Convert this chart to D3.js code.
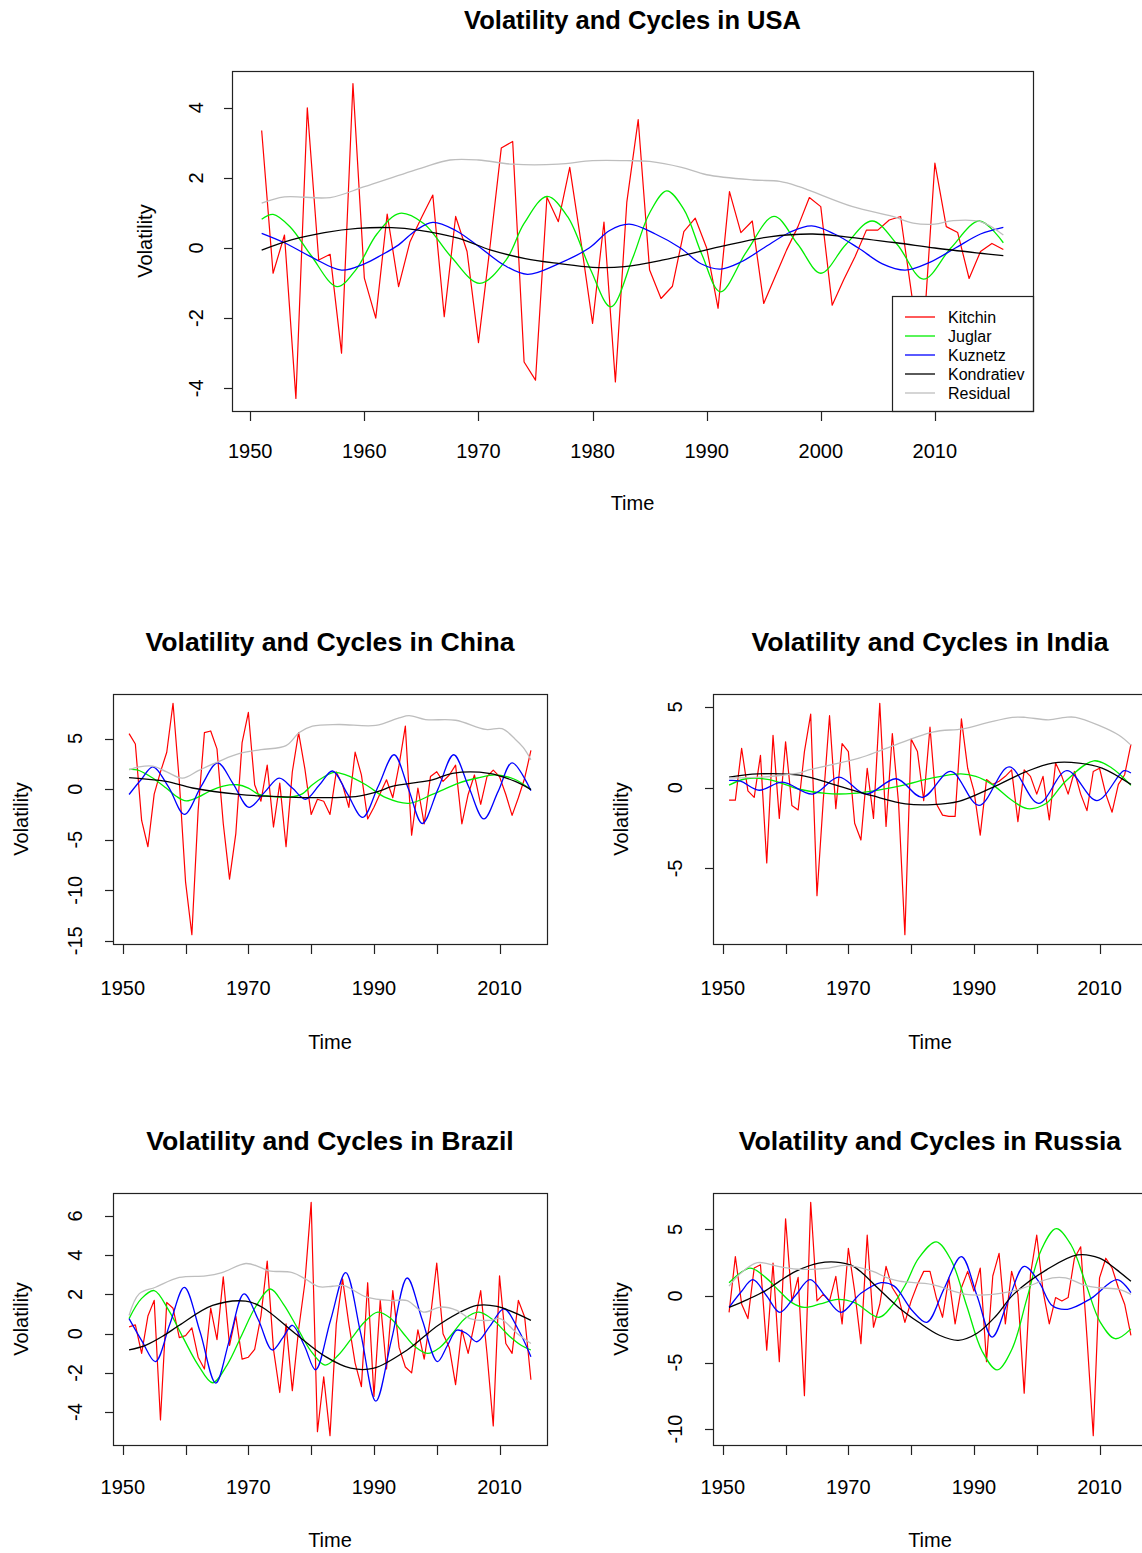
<!DOCTYPE html>
<html><head><meta charset="utf-8">
<script src="https://cdn.jsdelivr.net/npm/d3@7"></script>
<style>body{margin:0;background:#fff;} svg{display:block;}</style>
</head><body><svg id="c" width="1142" height="1553"></svg>
<script>
// ---------- categories ----------
const seriesNames = ["Kitchin","Juglar","Kuznetz","Kondratiev","Residual"];
const seriesColors = ["#ff0000","#00ee00","#0000ff","#000000","#bebebe"];
const yearsUSA = d3.range(1951, 2017);
const yearsOther = d3.range(1951, 2016);
const xTickValues = [1950,1960,1970,1980,1990,2000,2010];

// ---------- USA ----------
const usaKitchin = [3.35,-0.72,0.37,-4.29,4.0,-0.34,-0.18,-3.0,4.69,-0.86,-2.0,0.97,-1.1,0.18,0.86,1.51,-1.96,0.9,-0.1,-2.7,0.0,2.85,3.04,-3.25,-3.77,1.45,0.75,2.3,0.14,-2.15,0.74,-3.82,1.3,3.66,-0.63,-1.44,-1.09,0.47,0.85,0.0,-1.72,1.61,0.44,0.77,-1.58,-0.82,-0.06,0.61,1.44,1.18,-1.63,-0.91,-0.25,0.51,0.51,0.8,0.9,-1.4,-2.5,2.42,0.61,0.44,-0.87,-0.1,0.13,-0.04];
const usaJuglar = [[1951,0.82],[1952,0.96],[1953.5,0.6],[1955.3,-0.2],[1957.6,-1.1],[1959.3,-0.6],[1961.1,0.4],[1963.1,0.99],[1965.2,0.7],[1967.6,-0.25],[1970.1,-1.01],[1972.4,-0.35],[1974,0.7],[1976,1.47],[1977.8,0.9],[1979.8,-0.6],[1981.6,-1.68],[1983.5,-0.3],[1985,1.0],[1986.5,1.63],[1988,1.1],[1989.6,-0.2],[1991.2,-1.25],[1993.5,-0.1],[1995.9,0.9],[1998,0.1],[2000,-0.72],[2002.2,0.1],[2004.5,0.77],[2006.7,0.1],[2009,-0.89],[2011.4,0],[2013.9,0.77],[2016,0.15]];
const usaKuznetz = [[1951,0.42],[1953,0.15],[1955.5,-0.28],[1958,-0.63],[1960,-0.45],[1961.5,-0.2],[1963,0.09],[1964.5,0.5],[1966,0.73],[1968,0.5],[1970,0.05],[1972.3,-0.5],[1974.3,-0.75],[1977,-0.45],[1979.7,0],[1981.5,0.5],[1983.2,0.68],[1985.5,0.4],[1987.7,0],[1989.5,-0.45],[1991.2,-0.6],[1993,-0.4],[1995,0],[1997.3,0.45],[1999.2,0.63],[2001.2,0.4],[2003.3,0],[2005.4,-0.45],[2007.4,-0.63],[2009.6,-0.4],[2011.8,0],[2014,0.4],[2016,0.59]];
const usaKondratiev = [[1951,-0.06],[1953.6,0.23],[1956.5,0.44],[1959.4,0.56],[1962.4,0.58],[1964.7,0.51],[1968.2,0.28],[1971.1,-0.06],[1974.1,-0.3],[1977,-0.44],[1980,-0.55],[1982.8,-0.53],[1986.2,-0.34],[1991.2,0.04],[1995.5,0.32],[1999.3,0.4],[2002.2,0.32],[2006.6,0.15],[2010,0],[2014,-0.15],[2016,-0.22]];
const usaResidual = [[1951,1.28],[1953,1.46],[1957,1.44],[1960,1.75],[1965,2.28],[1967.5,2.51],[1970,2.51],[1973,2.39],[1977,2.39],[1980,2.49],[1983,2.49],[1985,2.47],[1987.8,2.3],[1990,2.09],[1994.1,1.94],[1996.4,1.9],[1998.1,1.75],[2002.8,1.18],[2006.3,0.9],[2008.1,0.71],[2010,0.68],[2011.6,0.78],[2014,0.75],[2016,0.37]];

// ---------- China ----------
const chinaKitchin = [5.49,4.46,-3.1,-5.7,-0.5,1.7,3.65,8.49,0.76,-9.2,-14.4,-2.1,5.59,5.75,3.98,-3.4,-8.9,-4.4,4.6,7.58,0.43,-1.2,2.37,-3.75,0.6,-5.7,1.72,5.59,2.0,-2.5,-1.0,-1.2,-2.5,1.7,0.43,-1.8,3.65,1.4,-2.95,-1.8,-0.4,0.92,-0.85,2.37,6.23,-4.56,0.11,-3.43,1.24,1.72,0.76,1.4,2.37,-3.43,-0.53,1.4,-1.5,1.24,1.88,1.24,-0.53,-2.6,-0.85,1.08,3.82];
const chinaJuglar = [[1951,1.95],[1952.3,1.9],[1954.5,1.2],[1956.9,0.11],[1958.5,-0.7],[1960.1,-1.17],[1962,-0.8],[1963.8,-0.21],[1966,0.3],[1968.3,0.43],[1970,0.1],[1971.7,-0.53],[1974,-0.75],[1976.5,-0.8],[1978.5,-0.5],[1980.2,0.43],[1982,1.2],[1983.7,1.66],[1985.5,1.4],[1988.7,0.43],[1991.9,-0.85],[1995.6,-1.4],[1999.3,-0.53],[2003.5,0.6],[2006.5,1.1],[2009.4,1.4],[2012.3,1.0],[2015,-0.05]];
const chinaKuznetz = [[1951,-0.53],[1953,1.0],[1954.8,2.2],[1957.3,0.2],[1959.8,-2.5],[1962.5,0.3],[1965.1,2.6],[1967.6,0.5],[1970.1,-1.8],[1972.6,-0.3],[1974.9,1.08],[1977,0.1],[1979.1,-1.0],[1981.3,0.4],[1983.4,1.79],[1985.8,-0.5],[1988.2,-2.8],[1990.7,0.3],[1993.2,3.4],[1995.5,0],[1997.7,-3.4],[2000.2,0],[2002.7,3.4],[2005.1,0.2],[2007.5,-2.95],[2009.8,-0.2],[2012,2.6],[2015,-0.15]];
const chinaKondratiev = [[1951,1.14],[1956.9,0.76],[1961.1,0.11],[1968.5,-0.53],[1972.8,-0.69],[1980.2,-0.85],[1987.6,-0.69],[1990.8,-0.21],[1992.9,0.27],[1999.3,0.92],[2002.5,1.56],[2008.3,1.56],[2012.5,0.76],[2015,-0.05]];
const chinaResidual = [[1951,1.9],[1952.6,2.2],[1954.8,2.27],[1957,1.7],[1959.5,1.08],[1962.2,1.88],[1965.5,2.8],[1968.5,3.5],[1972,3.9],[1976,4.3],[1978.1,5.59],[1980.2,6.23],[1984.4,6.39],[1990.3,6.3],[1994,7.04],[1995.6,7.26],[1998.2,6.88],[2003,6.81],[2007.8,5.9],[2010.4,5.97],[2012.5,4.94],[2013.8,4.1],[2015,2.9]];

// ---------- India ----------
const indiaKitchin = [-0.77,-0.77,2.43,-0.2,-0.6,2.0,-4.66,3.24,-1.9,2.83,-1.1,-1.38,2.23,4.55,-6.68,-0.8,4.45,-1.3,2.73,2.23,-2.2,-3.24,1.2,-1.9,5.22,-2.4,3.34,-1.0,-9.1,3.0,2.23,-0.8,3.74,-1.0,-1.7,-1.78,-1.78,4.25,1.2,-0.2,-2.94,0.5,0.2,0.4,0.7,1.1,-2.1,1.1,0.7,-0.4,0.7,-2.0,1.52,0.7,-0.4,1.0,-0.4,-1.42,1.0,1.2,-0.4,-1.52,0.2,0.8,2.67];
const indiaJuglar = [[1951,0.16],[1953.7,0.55],[1957.4,0.5],[1962.2,-0.1],[1966.4,-0.36],[1970.7,-0.36],[1978.1,0.1],[1983.4,0.6],[1987.9,0.85],[1990.3,0.7],[1992.9,0.2],[1996.1,-0.8],[1998.5,-1.3],[2001.4,-1.0],[2004.6,0.4],[2009.1,1.66],[2012,1.2],[2015,0.14]];
const indiaKuznetz = [[1951,0.45],[1952.8,0.4],[1955.8,-0.16],[1959.5,0.34],[1964.3,-0.4],[1968.5,0.65],[1972.8,-0.4],[1977.6,0.55],[1981.8,-0.6],[1986.3,1.0],[1990.8,-1.1],[1995.6,1.28],[2000.3,-0.97],[2004.8,1.05],[2009.6,-0.8],[2013.9,1.05],[2015,0.9]];
const indiaKondratiev = [[1951,0.65],[1955.6,0.85],[1962.2,0.77],[1968.5,0.1],[1973.8,-0.5],[1979.1,-1.0],[1983.4,-1.05],[1987.6,-0.85],[1992.9,0],[1998.2,0.97],[2002.5,1.52],[2006.7,1.52],[2010.4,1.21],[2015,0.2]];
const indiaResidual = [[1951,0.6],[1956,0.65],[1959,0.75],[1962.2,0.91],[1963.8,1.11],[1971.7,1.82],[1976,2.43],[1983.4,3.44],[1988.2,3.64],[1992,4.0],[1996.1,4.35],[1998.2,4.35],[2001.9,4.19],[2004.6,4.35],[2006.2,4.35],[2009.9,3.85],[2013.1,3.24],[2015,2.63]];

// ---------- Brazil ----------
const brazilKitchin = [0.35,0.45,-1.0,0.9,1.7,-4.4,1.6,1.3,-0.2,-0.1,0.3,-1.2,-1.8,1.3,-0.3,2.9,-0.6,0.9,-1.3,-1.2,-0.8,0.9,3.7,-0.8,-3.0,0.5,-2.9,0.2,2.6,6.7,-5.0,-2.2,-5.2,0.5,2.8,0.5,-1.5,-2.7,2.6,-3.2,1.7,-1.8,2.2,-0.7,-1.7,-2.0,0.2,-1.3,0.85,3.6,0.0,-0.7,-2.6,0.2,-1.0,0.5,2.2,-1.0,-4.7,2.95,-0.5,-1.0,1.7,0.85,-2.35];
const brazilJuglar = [[1951,0.77],[1953,1.8],[1955,2.2],[1957.3,1.2],[1959.6,-0.2],[1962,-1.6],[1964.3,-2.5],[1966.6,-1.6],[1968.9,-0.1],[1971.2,1.4],[1973.5,2.28],[1975.6,1.5],[1977.8,0.3],[1980,-0.9],[1982.2,-1.6],[1984.3,-1.1],[1986.4,-0.25],[1988.5,0.6],[1990.6,1.1],[1992.6,0.8],[1994.6,0.05],[1996.5,-0.65],[1998.5,-1.0],[2000.5,-0.7],[2002.6,0.05],[2004.6,0.8],[2006.7,1.1],[2009,0.7],[2011.5,-0.1],[2013.5,-0.6],[2015,-0.83]];
const brazilKuznetz = [[1951,0.77],[1953.1,-0.4],[1955.2,-1.42],[1957.5,0.5],[1959.8,2.36],[1962.3,0.1],[1964.8,-2.52],[1967,-0.3],[1969.3,2.03],[1971.6,0.7],[1973.8,-0.83],[1975.5,-0.2],[1977,0.43],[1978.9,-0.6],[1980.7,-1.84],[1983.1,0.7],[1985.5,3.12],[1987.9,0.0],[1990.3,-3.44],[1992.8,-0.3],[1995.3,2.84],[1997.7,0.7],[2000.1,-1.42],[2001.7,-0.6],[2003.2,0.18],[2004.8,0.0],[2006.4,-0.41],[2008.5,0.4],[2010.7,1.27],[2013,0.2],[2015,-1.17]];
const brazilKondratiev = [[1951,-0.83],[1953.7,-0.58],[1956.5,-0.1],[1959,0.43],[1964.3,1.44],[1969.6,1.66],[1972.2,1.35],[1977.5,0],[1982.3,-1.17],[1986.3,-1.76],[1990,-1.76],[1995.3,-0.83],[2000.6,0.51],[2006.4,1.44],[2009.6,1.39],[2015,0.68]];
const brazilResidual = [[1951,0.93],[1952.6,2.03],[1955.2,2.37],[1959,2.87],[1963.2,2.95],[1965.8,3.12],[1969.6,3.58],[1971.7,3.41],[1973.3,3.21],[1977,3.12],[1979.1,2.79],[1981.2,2.4],[1983.4,2.42],[1985.2,2.45],[1988.9,1.86],[1992.7,1.69],[1995.3,1.69],[1997.9,1.1],[2000.6,1.36],[2003.2,1.19],[2005.3,0.77],[2008.5,0.68],[2010.1,0.77],[2012.8,0.01],[2015,-0.5]];

// ---------- Russia ----------
const russiaKitchin = [-1.23,2.96,-0.6,-1.7,2.1,2.35,-4.07,2.47,-4.94,5.8,-0.4,1.4,-7.5,7.04,-0.37,0.12,-0.37,1.48,-2.1,3.58,0.37,-3.58,4.57,-2.35,-0.62,2.22,0.62,-0.12,-1.98,-0.37,0.86,1.85,1.85,-0.12,-1.6,1.36,-2.1,0.62,1.85,0.37,2.1,-4.94,1.5,3.2,-2.1,1.85,0.12,-7.3,1.6,4.57,0.37,-2.1,-0.12,-0.37,-0.12,2.84,3.7,-3.1,-10.5,1.36,2.84,2.1,0.62,-0.62,-2.96];
const russiaJuglar = [[1951,0.99],[1954.3,2.1],[1956.8,1.4],[1959,0.37],[1961,-0.5],[1963,-0.86],[1965.5,-0.6],[1968.3,-0.25],[1971,-0.5],[1974.9,-1.6],[1977,-0.7],[1979.1,0.86],[1981.2,2.84],[1984,4.07],[1986.4,2.66],[1988.85,-0.75],[1991.3,-4.15],[1993.7,-5.56],[1996.05,-4.0],[1998.4,-0.25],[2000.75,3.5],[2003.1,5.06],[2005.45,3.85],[2007.8,0.93],[2010.15,-2.0],[2012.5,-3.21],[2015,-2.47]];
const russiaKuznetz = [[1951,-0.86],[1952.9,0.3],[1954.8,1.23],[1957,0.0],[1959.1,-1.23],[1961.5,0.0],[1963.9,1.23],[1966.3,0.0],[1968.8,-1.23],[1972,0.2],[1975.2,1.0],[1977.3,0.74],[1980.2,-1.11],[1982.5,-1.98],[1985.2,0.5],[1988,2.96],[1990.5,0.0],[1992.9,-3.09],[1995.5,-0.3],[1998,2.22],[2000.3,1.1],[2002.5,-0.74],[2004.9,-1.0],[2008.6,-0.2],[2012.8,1.23],[2015,0.25]];
const russiaKondratiev = [[1951,-0.86],[1954,-0.25],[1956.7,0.37],[1959,1.1],[1961.6,1.85],[1965.3,2.47],[1968,2.55],[1970.5,2.3],[1972.2,1.73],[1974.9,0.5],[1978,-0.86],[1981.2,-1.98],[1984.5,-2.95],[1987.5,-3.33],[1990.5,-2.8],[1993.5,-1.5],[1996.3,0.12],[2001.6,1.98],[2006.5,3.09],[2010,2.84],[2012.7,1.98],[2015,1.1]];
const russiaResidual = [[1951,0.74],[1952.6,1.6],[1955.5,2.5],[1959,2.2],[1962.5,2.0],[1966.9,2.1],[1969.5,2.3],[1973.9,1.85],[1976,1.4],[1978.1,1.11],[1983.4,0.86],[1988.7,0.12],[1993,0.12],[1997.2,0.5],[2002.5,1.36],[2004.6,1.36],[2007.7,0.8],[2009.9,0.62],[2013.1,0.5],[2015,0.12]];

// ---------- panels (layout) ----------
const panels = [
  {title:"Volatility and Cycles in USA", years:yearsUSA, kitchin:usaKitchin, smooth:[usaJuglar,usaKuznetz,usaKondratiev,usaResidual], box:[232,71,1033,411], allLabels:true, legend:true, ylabOff:87, ytickOff:36, xtickOff:40, xlabOff:92, titleOff:51, titleSize:25.5, yTickCount:5},
  {title:"Volatility and Cycles in China", years:yearsOther, kitchin:chinaKitchin, smooth:[chinaJuglar,chinaKuznetz,chinaKondratiev,chinaResidual], box:[113,694,547,944], allLabels:false, legend:false, ylabOff:92, ytickOff:38, xtickOff:44, xlabOff:98, titleOff:52, titleSize:26.6, yTickCount:5},
  {title:"Volatility and Cycles in India", years:yearsOther, kitchin:indiaKitchin, smooth:[indiaJuglar,indiaKuznetz,indiaKondratiev,indiaResidual], box:[713,694,1147,944], allLabels:false, legend:false, ylabOff:92, ytickOff:38, xtickOff:44, xlabOff:98, titleOff:52, titleSize:26.6, yTickCount:4},
  {title:"Volatility and Cycles in Brazil", years:yearsOther, kitchin:brazilKitchin, smooth:[brazilJuglar,brazilKuznetz,brazilKondratiev,brazilResidual], box:[113,1193,547,1445], allLabels:false, legend:false, ylabOff:92, ytickOff:38, xtickOff:42, xlabOff:95, titleOff:52, titleSize:26.6, yTickCount:5},
  {title:"Volatility and Cycles in Russia", years:yearsOther, kitchin:russiaKitchin, smooth:[russiaJuglar,russiaKuznetz,russiaKondratiev,russiaResidual], box:[713,1193,1147,1445], allLabels:false, legend:false, ylabOff:92, ytickOff:38, xtickOff:42, xlabOff:95, titleOff:52, titleSize:26.6, yTickCount:5}
];

const FONT = '"Liberation Sans", Arial, Helvetica, sans-serif';
const svg = d3.select("#c");
svg.append("rect").attr("width",1142).attr("height",1553).attr("fill","#fff");
const defs = svg.append("defs");

panels.forEach((p, i) => {
  const [L, T, R, B] = p.box;
  const y0 = p.years[0], y1 = p.years[p.years.length-1];
  const xp = (y1 - y0) * 0.04;
  const x = d3.scaleLinear().domain([y0 - xp, y1 + xp]).range([L, R]);
  const vals = p.kitchin.concat(...p.smooth.map(s => s.map(d => d[1])));
  const [vmin, vmax] = d3.extent(vals);
  const yp = (vmax - vmin) * 0.04;
  const y = d3.scaleLinear().domain([vmin - yp, vmax + yp]).range([B, T]);

  defs.append("clipPath").attr("id", "clip" + i)
    .append("rect").attr("x", L).attr("y", T).attr("width", R - L).attr("height", B - T);
  const g = svg.append("g").attr("clip-path", `url(#clip${i})`);

  const annual = d3.line().x((d, j) => x(p.years[j])).y(d => y(d));
  g.append("path").attr("d", annual(p.kitchin)).attr("fill", "none")
    .attr("stroke", seriesColors[0]).attr("stroke-width", 1.2).attr("stroke-linejoin","round");
  const smooth = d3.line().x(d => x(d[0])).y(d => y(d[1])).curve(d3.curveCatmullRom.alpha(0.5));
  p.smooth.forEach((s, k) => {
    g.append("path").attr("d", smooth(s)).attr("fill", "none")
      .attr("stroke", seriesColors[k + 1]).attr("stroke-width", 1.3);
  });

  // legend
  if (p.legend) {
    const lg = svg.append("g");
    const lx = 892, ly = 296;
    lg.append("rect").attr("x", lx + 0.5).attr("y", ly + 0.5).attr("width", R - lx).attr("height", B - ly)
      .attr("fill", "#fff").attr("stroke", "#222").attr("stroke-width", 1.2);
    seriesNames.forEach((n, k) => {
      const yy = 317 + k * 19;
      lg.append("line").attr("x1", 905).attr("x2", 935).attr("y1", yy).attr("y2", yy)
        .attr("stroke", seriesColors[k]).attr("stroke-width", 1.3);
      lg.append("text").attr("x", 948).attr("y", yy).attr("dominant-baseline", "central")
        .attr("font-family", FONT).attr("font-size", 16).attr("fill", "#000").text(n);
    });
  }

  // box
  svg.append("rect").attr("x", L + 0.5).attr("y", T + 0.5).attr("width", R - L).attr("height", B - T)
    .attr("fill", "none").attr("stroke", "#222").attr("stroke-width", 1.2);

  // y axis ticks
  const yt = y.ticks(p.yTickCount);
  yt.forEach(v => {
    const py = Math.round(y(v)) + 0.5;
    svg.append("line").attr("x1", L - 8).attr("x2", L).attr("y1", py).attr("y2", py)
      .attr("stroke", "#222").attr("stroke-width", 1.2);
    svg.append("text").attr("transform", `translate(${L - p.ytickOff},${y(v)}) rotate(-90)`)
      .attr("text-anchor", "middle").attr("dominant-baseline", "central")
      .attr("font-family", FONT).attr("font-size", 20).attr("fill", "#000").text(String(v));
  });
  // x axis ticks
  xTickValues.forEach((t, k) => {
    const px = Math.round(x(t)) + 0.5;
    svg.append("line").attr("x1", px).attr("x2", px).attr("y1", B).attr("y2", B + 10)
      .attr("stroke", "#222").attr("stroke-width", 1.2);
    if (p.allLabels || k % 2 === 0) {
      svg.append("text").attr("x", x(t)).attr("y", B + p.xtickOff).attr("text-anchor", "middle")
        .attr("dominant-baseline", "central").attr("font-family", FONT).attr("font-size", 20)
        .attr("fill", "#000").text(String(t));
    }
  });
  // labels
  const cx = (L + R) / 2, cy = (T + B) / 2;
  svg.append("text").attr("x", cx).attr("y", B + p.xlabOff).attr("text-anchor", "middle")
    .attr("dominant-baseline", "central").attr("font-family", FONT).attr("font-size", 20).text("Time");
  svg.append("text").attr("transform", `translate(${L - p.ylabOff},${cy}) rotate(-90)`)
    .attr("text-anchor", "middle").attr("dominant-baseline", "central")
    .attr("font-family", FONT).attr("font-size", 20).text("Volatility");
  svg.append("text").attr("x", cx).attr("y", T - p.titleOff).attr("text-anchor", "middle")
    .attr("dominant-baseline", "central").attr("font-family", FONT).attr("font-size", p.titleSize)
    .attr("font-weight", "bold").text(p.title);
});
</script>
</body></html>
